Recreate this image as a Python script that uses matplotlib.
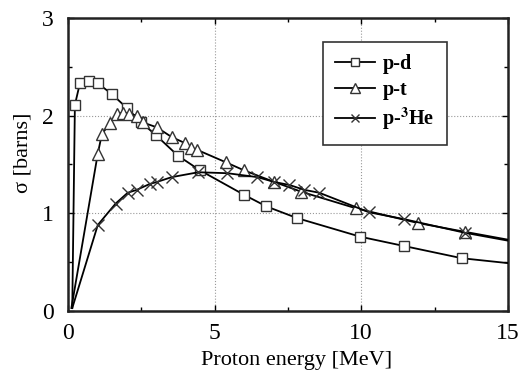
import matplotlib
matplotlib.use("Agg")
import matplotlib.pyplot as plt
from matplotlib.ticker import MultipleLocator

plt.rcParams['font.family'] = ['Liberation Serif', 'DejaVu Serif']
plt.rcParams['mathtext.fontset'] = 'stix'

# p-d
pd_x = [0.15, 0.24, 0.41, 0.71, 1.02, 1.5, 2.0, 2.5, 3.0, 3.75, 4.5, 6.0, 6.77, 7.82, 9.97, 11.46, 13.43, 15.0]
pd_y = [0.03, 2.11, 2.33, 2.35, 2.33, 2.22, 2.08, 1.93, 1.80, 1.59, 1.44, 1.19, 1.07, 0.95, 0.76, 0.665, 0.54, 0.49]

# p-t
pt_x = [0.12, 1.02, 1.16, 1.43, 1.67, 1.88, 2.1, 2.34, 2.55, 3.03, 3.54, 3.98, 4.2, 4.4, 5.4, 6.0, 7.04, 7.96, 9.83, 11.94, 13.54, 15.0]
pt_y = [0.03, 1.61, 1.81, 1.92, 2.02, 2.03, 2.02, 2.0, 1.93, 1.88, 1.78, 1.72, 1.67, 1.65, 1.52, 1.44, 1.32, 1.22, 1.05, 0.90, 0.81, 0.73]

# p-3He
phe_x = [0.15, 1.02, 1.63, 2.04, 2.35, 2.79, 3.03, 3.54, 4.45, 5.44, 6.46, 7.04, 7.55, 8.06, 8.57, 10.27, 11.46, 13.54, 15.0]
phe_y = [0.03, 0.88, 1.10, 1.21, 1.24, 1.30, 1.32, 1.37, 1.42, 1.41, 1.37, 1.32, 1.29, 1.24, 1.21, 1.01, 0.94, 0.80, 0.72]

x_ticks = [0, 5, 10, 15]
y_ticks = [0, 1, 2, 3]

fig = plt.figure(figsize=(5.22, 3.72), dpi=100)
ax = fig.add_axes([0.130, 0.164, 0.843, 0.788])

lw = 1.3
ax.plot(pd_x, pd_y, color='black', lw=lw, marker='s', ms=7.5, mfc='white', mec='#333333', mew=1.0,
        markevery=slice(1, -1), label='p-d', zorder=3)
ax.plot(pt_x, pt_y, color='black', lw=lw, marker='^', ms=9, mfc='white', mec='#333333', mew=1.0,
        markevery=slice(1, -1), label='p-t', zorder=3)
ax.plot(phe_x, phe_y, color='black', lw=lw, marker='x', ms=8.5, mec='#333333', mew=1.0,
        markevery=slice(1, -1), label=r'p-$^{\mathbf{3}}$He', zorder=3)

ax.set_xlim(0, 15)
ax.set_ylim(0, 3)
ax.set_xticks(x_ticks)
ax.set_yticks(y_ticks)
ax.xaxis.set_minor_locator(MultipleLocator(2.5))
ax.yaxis.set_minor_locator(MultipleLocator(0.5))
ax.tick_params(which='both', direction='in', top=True, right=True, labelsize=17, width=1.0)
ax.tick_params(which='major', length=4)
ax.tick_params(axis='x', which='major', pad=9)
ax.tick_params(axis='y', which='major', pad=10)
ax.tick_params(which='minor', length=3)
ax.grid(True, which='major', color='#999999', lw=0.8, ls=':')
for s in ax.spines.values():
    s.set_linewidth(1.8)
    s.set_color('#222222')

ax.set_xlabel('Proton energy [MeV]', fontsize=16)
ax.set_ylabel('σ [barns]', fontsize=16)
ax.xaxis.set_label_coords(0.52, -0.135)
ax.yaxis.set_label_coords(-0.08, 0.54)

leg = ax.legend(loc='upper left', bbox_to_anchor=(0.58, 0.918), borderaxespad=0, frameon=True,
                fancybox=False, edgecolor='#333333', framealpha=1, handlelength=2.0,
                handletextpad=0.35, borderpad=0.6, labelspacing=0.3, markerscale=0.75,
                prop={'weight': 'bold', 'size': 14.5})
leg.get_frame().set_linewidth(1.2)

fig.savefig('out.png', dpi=100)
